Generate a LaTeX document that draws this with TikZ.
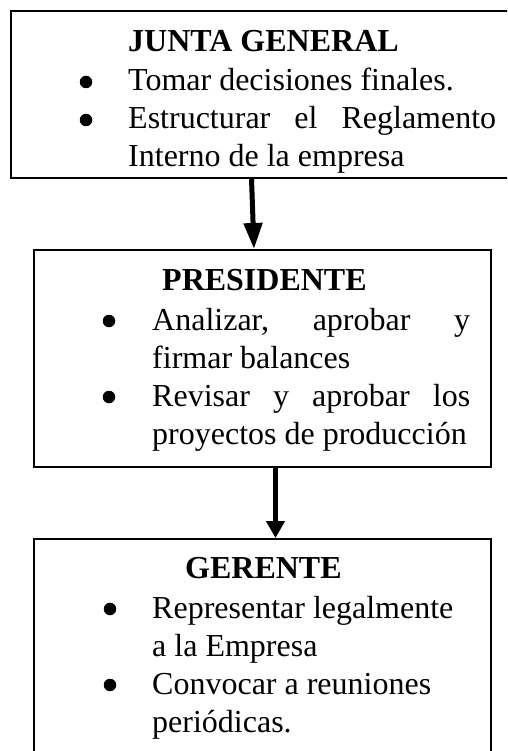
\documentclass[tikz,border=0pt]{standalone}
\usepackage{fontspec}
\setmainfont{Liberation Serif}
\usetikzlibrary{arrows.meta}
\tikzset{
  boxst/.style={draw, line width=2.5pt, rectangle, outer sep=0pt, inner sep=0pt, anchor=north west},
  ttl/.style={anchor=base west, inner sep=0pt, font=\fontsize{32}{38}\selectfont\bfseries},
  txt/.style={anchor=base west, inner sep=0pt, font=\fontsize{32}{38}\selectfont},
  bul/.style={circle, fill, draw=none, inner sep=0pt, minimum size=12.5pt},
  arrA/.style={line width=5pt, -{Triangle[length=26pt,width=18pt]}},
  arrB/.style={line width=5.5pt, -{Triangle[length=17pt,width=18pt]}},
}
\begin{document}
\begin{tikzpicture}[x=1pt,y=-1pt]
\useasboundingbox[fill=white] (0,0) rectangle (507,751);
\clip (0,0) rectangle (507,751);

% boxes
\node[boxst, minimum width=540pt, minimum height=167pt] (jg) at (11,11) {};
\node[boxst, minimum width=457pt, minimum height=217pt] (pres) at (34,250) {};
\node[boxst, minimum width=457pt, minimum height=280pt] (ger) at (34,539) {};

% box 1 text
\node[ttl] (jgt) at (128,52) {JUNTA GENERAL};
\node[bul] (jb1) at (86,82) {};
\node[txt] (jl1) at (128,91) {Tomar decisiones finales.};
\node[bul] (jb2) at (86,120) {};
\node[txt] (jl2) at (128,129) {\hbox to 368pt{Estructurar\hfill el\hfill Reglamento}};
\node[txt] (jl3) at (128,167) {Interno de la empresa};

% box 2 text
\node[ttl] (pt) at (162,290) {PRESIDENTE};
\node[bul] (pb1) at (109,321) {};
\node[txt] (pl1) at (152,330) {\hbox to 318pt{Analizar,\hfill aprobar\hfill y}};
\node[txt] (pl2) at (152,368) {firmar balances};
\node[bul] (pb2) at (109,397) {};
\node[txt] (pl3) at (152,406) {\hbox to 318pt{Revisar\hfill y\hfill aprobar\hfill los}};
\node[txt] (pl4) at (152,444) {proyectos de producción};

% box 3 text
\node[ttl] (gt) at (185,578) {GERENTE};
\node[bul] (gb1) at (110,609) {};
\node[txt] (gl1) at (152,618) {Representar legalmente};
\node[txt] (gl2) at (152,656) {a la Empresa};
\node[bul] (gb2) at (110,685) {};
\node[txt] (gl3) at (152,694) {Convocar a reuniones};
\node[txt] (gl4) at (152,732) {periódicas.};

% arrows
\draw[arrA, shorten >=1pt] ([xshift=-29.5pt]jg.south) -- ([xshift=-8.5pt]pres.north);
\draw[arrB, shorten >=1pt] ([xshift=13pt]pres.south) -- ([xshift=13pt]ger.north);
\end{tikzpicture}
\end{document}
